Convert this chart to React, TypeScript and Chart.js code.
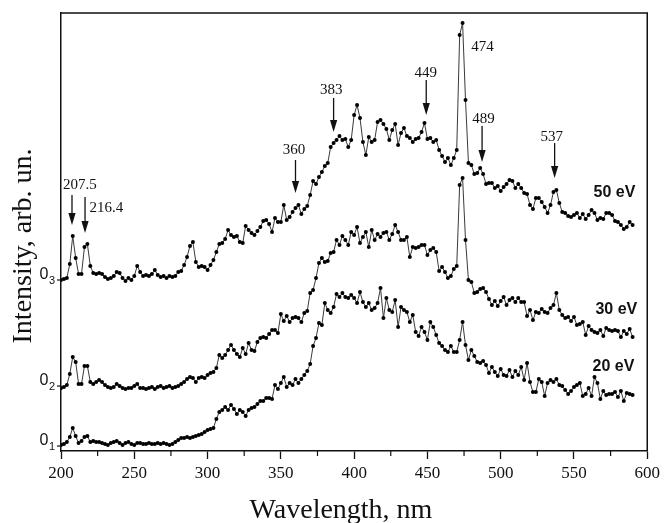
import React, { useEffect, useRef } from 'react';
import { Chart, registerables } from 'chart.js';

Chart.register(...registerables);

// Wavelength sampling (nm)
const wlStart = 200;
const wlStep = 2;
const wlCount = 196;
const wavelengths: number[] = Array.from({ length: wlCount }, (_, i) => wlStart + wlStep * i);

// Intensities relative to each spectrum's own zero (arb. units)
const int20: number[] = [
  1, 2, 4, 9, 18, 10, 3, 5, 9, 10,
  4, 5, 4, 4, 3, 2, 1, 3, 4, 5,
  3, 1, 3, 4, 2, 1, 3, 3, 2, 2,
  3, 2, 2, 3, 2, 3, 2, 1, 2, 4,
  6, 8, 8, 9, 8, 9, 10, 11, 12, 14,
  16, 17, 18, 27, 34, 36, 39, 36, 41, 37,
  32, 36, 34, 30, 36, 38, 39, 42, 45, 45,
  48, 48, 47, 61, 57, 63, 69, 59, 63, 61,
  67, 63, 67, 71, 75, 82, 100, 108, 123, 121,
  143, 136, 133, 139, 152, 149, 153, 149, 148, 151,
  148, 143, 154, 144, 139, 143, 136, 138, 143, 158,
  128, 148, 136, 134, 146, 119, 139, 136, 134, 124,
  131, 114, 110, 119, 114, 106, 124, 119, 111, 103,
  100, 96, 94, 100, 94, 94, 106, 124, 101, 86,
  96, 90, 84, 83, 85, 81, 73, 79, 74, 70,
  77, 71, 70, 76, 69, 75, 71, 79, 66, 83,
  64, 54, 54, 67, 64, 50, 63, 66, 64, 67,
  61, 60, 56, 52, 55, 59, 61, 63, 50, 52,
  58, 50, 69, 63, 47, 55, 51, 52, 52, 54,
  49, 55, 45, 53, 52, 51,
];

const int30: number[] = [
  -2, -1, 1, 12, 29, 24, 2, 2, 20, 20,
  4, 2, 4, 6, 4, 1, -1, -2, -1, 2,
  0, -2, -3, -2, -2, 0, 2, -2, -2, -3,
  -2, -1, -3, -1, 0, -2, -1, 0, -2, -1,
  0, 2, 4, 7, 9, 8, 4, 8, 9, 8,
  11, 13, 14, 18, 31, 28, 31, 36, 41, 36,
  32, 29, 38, 32, 43, 36, 35, 44, 48, 49,
  48, 52, 56, 56, 53, 72, 65, 70, 64, 68,
  69, 68, 64, 73, 75, 93, 96, 108, 123, 128,
  124, 125, 133, 134, 146, 141, 150, 146, 141, 154,
  151, 159, 143, 149, 154, 139, 156, 146, 152, 149,
  153, 154, 146, 152, 161, 154, 146, 146, 149, 129,
  139, 138, 139, 141, 141, 131, 136, 138, 134, 115,
  119, 114, 108, 110, 117, 120, 201, 208, 146, 106,
  104, 93, 94, 97, 98, 94, 87, 81, 85, 80,
  85, 89, 81, 86, 88, 84, 88, 84, 84, 70,
  76, 66, 74, 73, 77, 74, 73, 78, 81, 93,
  76, 71, 68, 69, 65, 69, 61, 62, 64, 51,
  60, 56, 54, 53, 56, 50, 58, 56, 55, 56,
  55, 49, 55, 52, 57, 49,
];

const int50: number[] = [
  0, 1, 2, 16, 44, 22, 6, 6, 33, 36,
  14, 7, 6, 7, 6, 3, 1, 2, 4, 8,
  7, 2, -1, 2, 0, 4, 14, 8, 4, 5,
  4, 6, 10, 5, 3, 4, 2, 4, 3, 4,
  8, 9, 15, 23, 34, 38, 18, 13, 14, 13,
  10, 15, 20, 28, 36, 37, 41, 50, 45, 43,
  44, 38, 37, 54, 50, 47, 45, 49, 53, 59,
  60, 56, 48, 62, 58, 58, 75, 60, 63, 68,
  72, 75, 66, 71, 74, 85, 99, 96, 103, 108,
  114, 117, 133, 137, 140, 144, 140, 141, 133, 140,
  165, 175, 162, 138, 125, 143, 138, 140, 158, 160,
  156, 151, 140, 150, 156, 135, 147, 152, 144, 142,
  138, 141, 142, 148, 157, 141, 142, 138, 140, 130,
  124, 118, 122, 115, 122, 130, 245, 257, 180, 117,
  115, 106, 107, 112, 106, 96, 97, 97, 92, 94,
  89, 93, 96, 100, 99, 92, 96, 92, 87, 86,
  75, 71, 82, 82, 78, 73, 67, 75, 88, 90,
  77, 68, 67, 64, 63, 65, 67, 62, 66, 61,
  65, 70, 67, 60, 62, 61, 67, 67, 65, 59,
  58, 55, 51, 53, 58, 55,
];

// Vertical offsets of the three spectra (their zeros 0_1, 0_2, 0_3)
const seriesNames: string[] = ['20 eV', '30 eV', '50 eV'];
const seriesOffsets: number[] = [5, 65, 171];
const zeroSubscripts: string[] = ['1', '2', '3'];

// Series name labels (right edge wavelength, baseline intensity)
const nameLabelX: number[] = [591.2, 593.2, 591.9];
const nameLabelY: number[] = [80, 137, 254];

// Axis ranges and ticks
const xMin = 200;
const xMax = 600;
const xMajorStep = 50;
const xMinorTicks: number[] = [225, 275, 325, 375, 425, 475, 525, 575];
const yMin = 0;
const yMax = 438;

// Peak annotations
const peakLabels: string[] = ['207.5', '216.4', '360', '383', '449', '489', '537', '474'];
const peakLabelX: number[] = [212.9, 230.9, 358.9, 384.4, 448.9, 488.3, 534.8, 487.6];
const peakLabelY: number[] = [262, 239, 297, 357, 374, 328, 310, 400];
const arrowX: number[] = [207.5, 216.4, 360, 386, 449.2, 487.3, 536.8];
const arrowTop: number[] = [256, 254, 291, 353, 371, 325, 308];
const arrowBottom: number[] = [226, 218, 258, 319, 336, 289, 273];

const xTitle = 'Wavelength, nm';
const yTitle = 'Intensity, arb. un.';

const serif = '"Liberation Serif", "Times New Roman", serif';
const sans = '"Liberation Sans", Arial, sans-serif';

const overlayPlugin = {
  id: 'overlay',
  afterDraw(chart: any) {
    const { ctx, chartArea: ca, scales } = chart;
    const x = scales.x;
    const y = scales.y;
    ctx.save();
    ctx.strokeStyle = '#111';
    ctx.fillStyle = '#111';

    // top and right frame
    ctx.lineWidth = 1.5;
    ctx.beginPath();
    ctx.moveTo(ca.left, ca.top);
    ctx.lineTo(ca.right, ca.top);
    ctx.lineTo(ca.right, ca.bottom);
    ctx.stroke();

    // minor x ticks
    ctx.lineWidth = 1.2;
    for (const v of xMinorTicks) {
      const px = x.getPixelForValue(v);
      ctx.beginPath();
      ctx.moveTo(px, ca.bottom);
      ctx.lineTo(px, ca.bottom + 5);
      ctx.stroke();
    }

    // y zero ticks and labels
    for (let i = 0; i < seriesOffsets.length; i++) {
      const py = y.getPixelForValue(seriesOffsets[i]);
      ctx.lineWidth = 1.2;
      ctx.beginPath();
      ctx.moveTo(ca.left - 4, py);
      ctx.lineTo(ca.left, py);
      ctx.stroke();
      ctx.textBaseline = 'alphabetic';
      ctx.textAlign = 'right';
      ctx.font = `16px ${sans}`;
      ctx.fillText('0', 48.5, py - 1);
      ctx.textAlign = 'left';
      ctx.font = `11px ${sans}`;
      ctx.fillText(zeroSubscripts[i], 49, py + 4);
    }

    // axis titles
    ctx.font = `28px ${serif}`;
    ctx.textAlign = 'center';
    ctx.textBaseline = 'alphabetic';
    ctx.fillText(xTitle, 341, 518);
    ctx.save();
    ctx.translate(31, 246);
    ctx.rotate(-Math.PI / 2);
    ctx.fillText(yTitle, 0, 0);
    ctx.restore();

    // peak labels
    ctx.font = `15px ${serif}`;
    ctx.textAlign = 'center';
    for (let i = 0; i < peakLabels.length; i++) {
      ctx.fillText(peakLabels[i], x.getPixelForValue(peakLabelX[i]), y.getPixelForValue(peakLabelY[i]));
    }

    // arrows
    for (let i = 0; i < arrowX.length; i++) {
      const px = x.getPixelForValue(arrowX[i]);
      const t = y.getPixelForValue(arrowTop[i]);
      const b = y.getPixelForValue(arrowBottom[i]);
      ctx.lineWidth = 1.3;
      ctx.beginPath();
      ctx.moveTo(px, t);
      ctx.lineTo(px, b - 10);
      ctx.stroke();
      ctx.beginPath();
      ctx.moveTo(px - 3.6, b - 12);
      ctx.lineTo(px + 3.6, b - 12);
      ctx.lineTo(px, b);
      ctx.closePath();
      ctx.fill();
    }

    // series names
    ctx.font = `bold 16px ${sans}`;
    ctx.textAlign = 'right';
    for (let i = 0; i < seriesNames.length; i++) {
      ctx.fillText(seriesNames[i], x.getPixelForValue(nameLabelX[i]), y.getPixelForValue(nameLabelY[i]));
    }
    ctx.restore();
  },
};

export default function App() {
  const canvasRef = useRef<HTMLCanvasElement | null>(null);

  useEffect(() => {
    const canvas = canvasRef.current;
    if (!canvas) return;
    const series = [int20, int30, int50];
    const datasets = series.map((vals, si) => ({
      label: seriesNames[si],
      data: wavelengths.map((w, i) => ({ x: w, y: vals[i] + seriesOffsets[si] })),
      borderColor: '#3a3a3a',
      borderWidth: 1,
      pointRadius: 2,
      pointHoverRadius: 2,
      pointBackgroundColor: '#000',
      pointBorderWidth: 0,
      fill: false,
      tension: 0,
    }));

    const chart = new Chart(canvas, {
      type: 'line',
      data: { datasets },
      options: {
        responsive: false,
        animation: false,
        devicePixelRatio: 1,
        events: [],
        layout: { padding: { top: 13, right: 14, left: 0, bottom: 0 } },
        plugins: { legend: { display: false }, tooltip: { enabled: false } },
        scales: {
          x: {
            type: 'linear',
            min: xMin,
            max: xMax,
            afterFit: (s: any) => { s.height = 72; },
            ticks: {
              stepSize: xMajorStep,
              color: '#111',
              font: { family: serif, size: 17 },
              padding: 4,
              maxRotation: 0,
            },
            grid: {
              display: true,
              drawOnChartArea: false,
              drawTicks: true,
              tickLength: 8,
              tickWidth: 1.3,
              tickColor: '#111',
            },
            border: { display: true, color: '#111', width: 1.5 },
          },
          y: {
            type: 'linear',
            min: yMin,
            max: yMax,
            afterFit: (s: any) => { s.width = 61; },
            ticks: { display: false },
            grid: { display: false },
            border: { display: true, color: '#111', width: 1.5 },
          },
        },
      },
      plugins: [overlayPlugin],
    });
    return () => chart.destroy();
  }, []);

  return (
    <div style={{ position: 'absolute', left: 0, top: 0, width: 664, height: 523, background: '#fff' }}>
      <canvas ref={canvasRef} width={664} height={523} style={{ display: 'block', width: 664, height: 523 }} />
    </div>
  );
}
